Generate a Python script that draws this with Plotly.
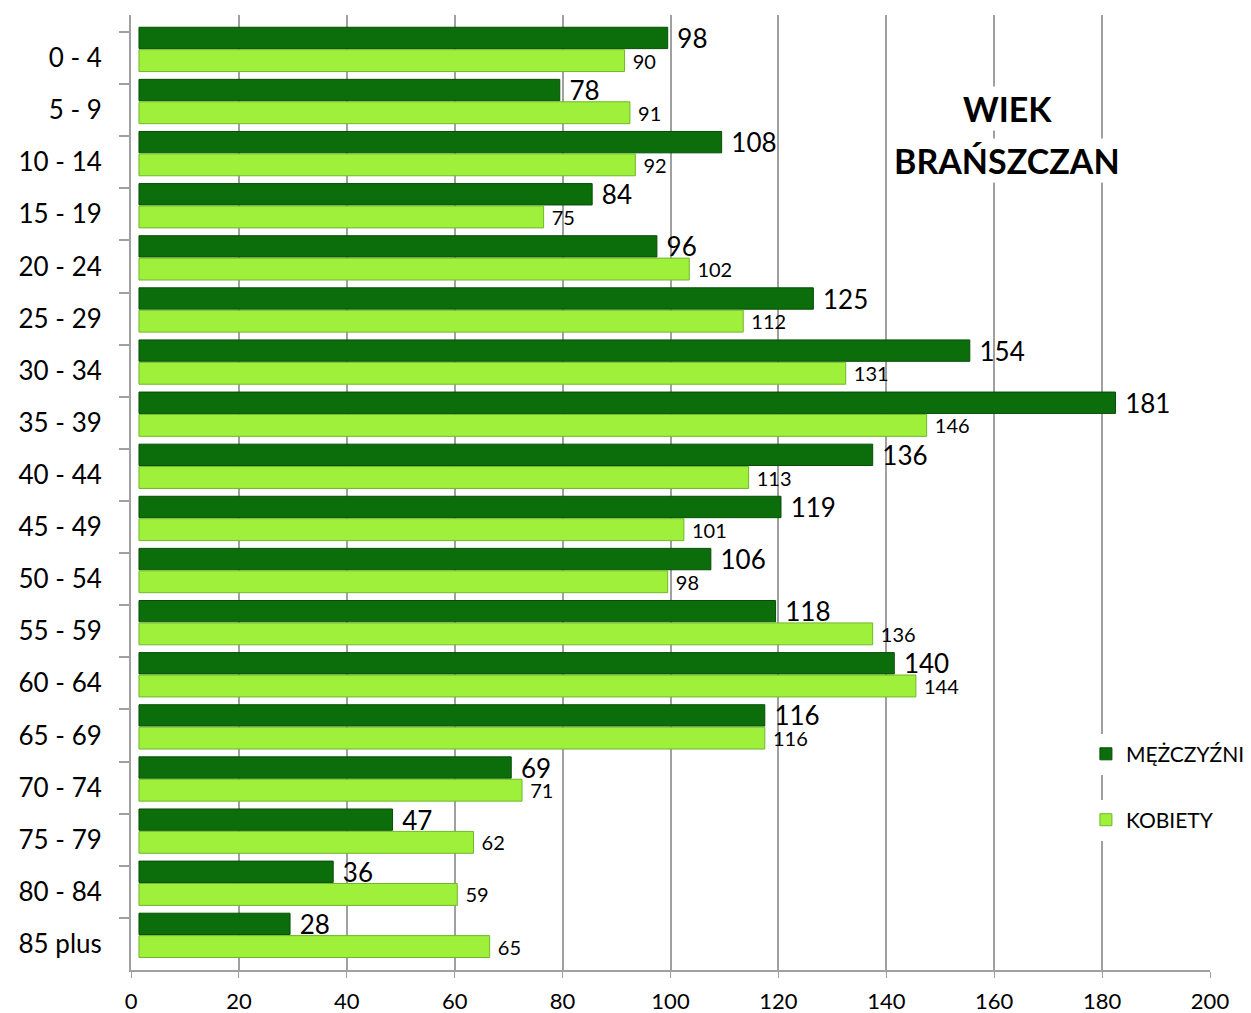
import plotly.graph_objects as go

categories = ["0 - 4", "5 - 9", "10 - 14", "15 - 19", "20 - 24", "25 - 29", "30 - 34",
              "35 - 39", "40 - 44", "45 - 49", "50 - 54", "55 - 59", "60 - 64", "65 - 69",
              "70 - 74", "75 - 79", "80 - 84", "85 plus"]
men = [98, 78, 108, 84, 96, 125, 154, 181, 136, 119, 106, 118, 140, 116, 69, 47, 36, 28]
women = [90, 91, 92, 75, 102, 112, 131, 146, 113, 101, 98, 136, 144, 116, 71, 62, 59, 65]
x_ticks = [0, 20, 40, 60, 80, 100, 120, 140, 160, 180, 200]

FONT = "Lato, 'Open Sans', sans-serif"
DEPTH = 1.48  # 3D depth shift of the bars (axis units)

fig = go.Figure()
# invisible trace that keeps the visible value axis attached to the plot
fig.add_trace(go.Scatter(
    y=categories, x=men, mode="markers", marker=dict(opacity=0),
    hoverinfo="skip", showlegend=False,
))
fig.add_trace(go.Bar(
    y=categories, x=men, orientation="h", name="MĘŻCZYŹNI",
    xaxis="x2", offset=-0.59, width=0.41,
    marker=dict(color="#0b6e0b", line=dict(color="#064d06", width=1)),
    texttemplate="\u00a0%{x}", textposition="outside", cliponaxis=False,
    constraintext="none",
    textfont=dict(size=26, color="black", family=FONT),
    legend="legend", showlegend=True,
))
fig.add_trace(go.Bar(
    y=categories, x=women, orientation="h", name="KOBIETY",
    xaxis="x2", offset=-0.16, width=0.42,
    marker=dict(color="#9ef03a", line=dict(color="#6fb82a", width=1)),
    texttemplate="\u00a0%{x}", textposition="outside", cliponaxis=False,
    constraintext="none",
    textfont=dict(size=20, color="black", family=FONT),
    legend="legend2", showlegend=True,
))

fig.update_layout(
    width=1251, height=1013,
    margin=dict(l=123, r=49, t=7, b=51),
    paper_bgcolor="white", plot_bgcolor="white",
    barmode="overlay",
    font=dict(family=FONT, color="black"),
    showlegend=True,
    xaxis=dict(
        range=[0, 200], tickvals=x_ticks, ticktext=[str(v) for v in x_ticks],
        showgrid=True, gridcolor="#a0a0a0", gridwidth=2,
        showline=True, linecolor="#a0a0a0", linewidth=2,
        ticks="outside", ticklen=6, tickcolor="#a0a0a0",
        tickfont=dict(size=22, family=FONT), ticklabelstandoff=5,
        zeroline=False, automargin=False,
    ),
    xaxis2=dict(
        range=[-DEPTH, 200 - DEPTH], overlaying="x", visible=False,
        showgrid=False, zeroline=False, automargin=False,
    ),
    yaxis=dict(
        range=[17.5, -0.825], showgrid=False,
        showline=True, linecolor="#a0a0a0", linewidth=2,
        ticks="outside", tickson="boundaries", ticklen=10, tickcolor="#a0a0a0",
        tickwidth=2,
        tickfont=dict(size=26, family=FONT), ticklabelstandoff=22,
        automargin=False,
    ),
    legend=dict(x=0.885, y=0.226, xanchor="left", yanchor="middle",
                bgcolor="white", font=dict(size=21, family=FONT),
                itemwidth=30, borderwidth=0),
    legend2=dict(x=0.885, y=0.157, xanchor="left", yanchor="middle",
                 bgcolor="white", font=dict(size=21, family=FONT),
                 itemwidth=30, borderwidth=0),
    annotations=[
        dict(text="<b>WIEK</b>", xref="paper", yref="paper",
             x=0.812, y=(970 - 108) / 955, xanchor="center", yanchor="middle",
             showarrow=False, font=dict(size=34, family=FONT, color="black"),
             bgcolor="white"),
        dict(text="<b>BRAŃSZCZAN</b>", xref="paper", yref="paper",
             x=0.812, y=(970 - 160) / 955, xanchor="center", yanchor="middle",
             showarrow=False, font=dict(size=34, family=FONT, color="black"),
             bgcolor="white"),
    ],
)

fig.write_html("out.html")
